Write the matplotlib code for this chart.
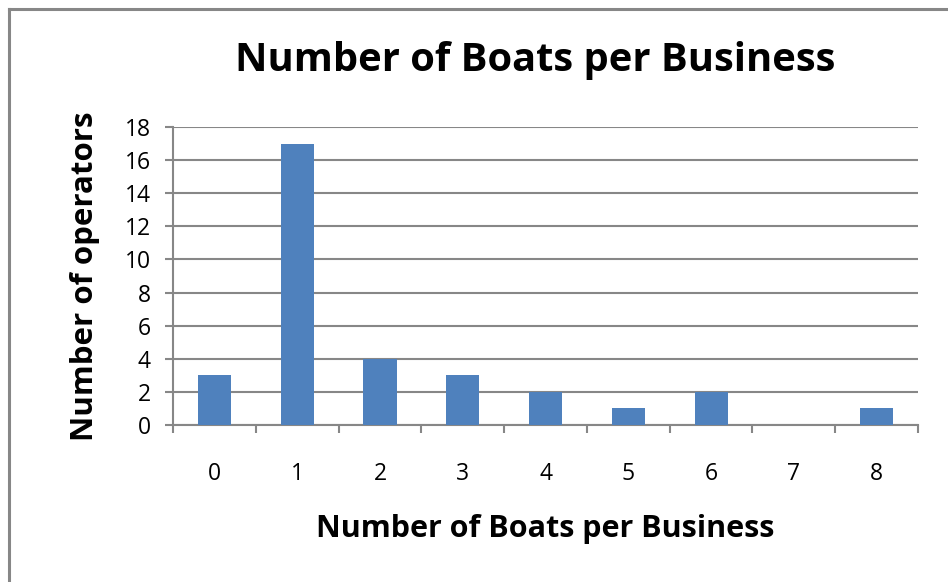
import matplotlib.pyplot as plt
from matplotlib.lines import Line2D

# Data
boats = ["0", "1", "2", "3", "4", "5", "6", "7", "8"]
operators = [3, 17, 4, 3, 2, 1, 2, 0, 1]
y_ticks = [0, 2, 4, 6, 8, 10, 12, 14, 16, 18]

BAR_COLOR = "#4F81BD"
GRID_COLOR = "#878787"
FONT = "Open Sans"

fig = plt.figure(figsize=(9.48, 5.82), dpi=100)
ax = fig.add_axes([173 / 948, 1 - 425 / 582, 745 / 948, 298 / 582])

x = list(range(len(boats)))
ax.bar(x, operators, width=0.4, color=BAR_COLOR, zorder=3)

ax.set_xlim(-0.5, len(boats) - 0.5)
ax.set_ylim(0, 18)
ax.set_yticks(y_ticks)
ax.set_yticklabels([str(v) for v in y_ticks], fontsize=16.5, family=FONT)
ax.yaxis.grid(True, color=GRID_COLOR, linewidth=1.5, zorder=0)
ax.tick_params(axis="y", length=6, width=1.5, color=GRID_COLOR, pad=10)

# category labels centred, tick marks on boundaries
ax.set_xticks(x)
ax.set_xticklabels(boats, fontsize=16.5, family=FONT)
ax.tick_params(axis="x", which="major", length=0, pad=27)
ax.set_xticks([v - 0.5 for v in range(len(boats) + 1)], minor=True)
ax.tick_params(axis="x", which="minor", length=6, width=1.5, color=GRID_COLOR)

for side in ("top", "right"):
    ax.spines[side].set_visible(False)
for side in ("left", "bottom"):
    ax.spines[side].set_color(GRID_COLOR)
    ax.spines[side].set_linewidth(1.5)

ax.set_ylabel("Number of operators", fontsize=22.5, fontweight="bold",
              family=FONT, labelpad=18)
ax.set_xlabel("Number of Boats per Business", fontsize=22, fontweight="bold",
              family=FONT, labelpad=20)
fig.text(535 / 948, 1 - 60 / 582, "Number of Boats per Business", fontsize=28.7,
         fontweight="bold", family=FONT, ha="center", va="center")

# chart frame (only top and left edges visible in the crop)
fig.add_artist(Line2D([9 / 948, 9 / 948], [0, 1 - 9 / 582], color=GRID_COLOR,
                      linewidth=2.2, transform=fig.transFigure))
fig.add_artist(Line2D([9 / 948, 1], [1 - 9 / 582, 1 - 9 / 582], color=GRID_COLOR,
                      linewidth=2.2, transform=fig.transFigure))

fig.savefig("out.png", dpi=100)
